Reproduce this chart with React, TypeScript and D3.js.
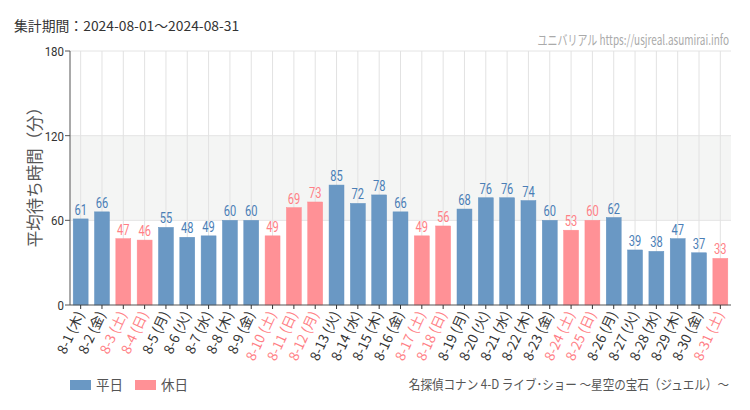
import React from "react";
import * as d3 from "d3";

const days = Array.from({ length: 31 }, (_, i) => `8-${i + 1}`);
const weekdays = ["木","金","土","日","月","火","水","木","金","土","日","月","火","水","木","金","土","日","月","火","水","木","金","土","日","月","火","水","木","金","土"];
const waits = [61,66,47,46,55,48,49,60,60,49,69,73,85,72,78,66,49,56,68,76,76,74,60,53,60,62,39,38,47,37,33];
const holidays = [3,4,10,11,12,17,18,24,25,31];
const yTicks = [0, 60, 120, 180];

const W = 750, H = 410;
const M = { left: 70, right: 731, top: 51, bottom: 305 };
const BLUE = "#6a98c4", PINK = "#ff9196";
const BLUE_T = "#4a7eb6", PINK_T = "#ff7f86";
const JP = "'Noto Sans CJK JP', 'Noto Sans', sans-serif";
const NUM = "Roboto, 'Noto Sans', sans-serif";

export default function App() {
  const x = d3.scaleBand<string>().domain(days).range([M.left, M.right]).paddingInner(0.3).paddingOuter(0.15);
  const y = d3.scaleLinear().domain([0, 180]).range([M.bottom, M.top]);
  const isHol = (i: number) => holidays.includes(i + 1);
  const cx = (d: string) => (x(d) as number) + x.bandwidth() / 2;

  return (
    <svg width={W} height={H} style={{ position: "fixed", left: 0, top: 0, background: "#fff" }}>
      <g transform="translate(14,31) scale(1.05,1)">
        <text x={0} y={0} fontFamily={JP} fontSize={13.2} fill="#333">集計期間：2024-08-01～2024-08-31</text>
      </g>
      <g transform="translate(729,45) scale(0.74,1)">
        <text x={0} y={0} textAnchor="end" fontFamily={JP} fontSize={13.5} fill="#aaa">ユニバリアル  https://usjreal.asumirai.info</text>
      </g>
      {/* shaded band 60-120 */}
      <rect x={M.left} y={y(120)} width={M.right - M.left} height={y(60) - y(120)} fill="#f4f5f4" />
      {/* horizontal grid */}
      {yTicks.filter(t => t > 0).map(t => (
        <line key={t} x1={M.left} x2={M.right} y1={y(t)} y2={y(t)} stroke="#e4e4e4" strokeWidth={1} />
      ))}
      {/* vertical grid */}
      {days.map(d => (
        <line key={d} x1={cx(d)} x2={cx(d)} y1={M.top} y2={M.bottom} stroke="#e2e2e2" strokeWidth={1} />
      ))}
      {/* bars */}
      {waits.map((v, i) => (
        <rect key={i} x={x(days[i])} y={y(v)} width={x.bandwidth()} height={M.bottom - y(v)}
          fill={isHol(i) ? PINK : BLUE} stroke={isHol(i) ? "#ff8a90" : "#6292c0"} strokeWidth={0.5} />
      ))}
      {/* value labels */}
      {waits.map((v, i) => (
        <g key={i} transform={`translate(${cx(days[i])},${y(v) - 4}) scale(0.74,1)`}>
          <text textAnchor="middle" fontFamily={NUM} fontSize={15} fill={isHol(i) ? PINK_T : BLUE_T}>{v}</text>
        </g>
      ))}
      {/* y axis */}
      <line x1={M.left} x2={M.left} y1={M.top} y2={M.bottom} stroke="#555" strokeWidth={1} />
      {yTicks.map(t => (
        <g key={t}>
          <line x1={M.left - 5} x2={M.left} y1={y(t)} y2={y(t)} stroke="#555" />
          <g transform={`translate(${M.left - 6},${y(t) + 5}) scale(0.85,1)`}>
            <text textAnchor="end" fontFamily={NUM} fontSize={13.5} fill="#333">{t}</text>
          </g>
        </g>
      ))}
      {/* x axis */}
      <line x1={M.left} x2={M.right} y1={M.bottom} y2={M.bottom} stroke="#555" strokeWidth={1} />
      {days.map((d, i) => (
        <g key={d}>
          <line x1={cx(d)} x2={cx(d)} y1={M.bottom} y2={M.bottom + 4} stroke="#333" />
          <text transform={`translate(${cx(d) + 4},${M.bottom + 9}) rotate(-65)`} textAnchor="end"
            fontFamily={JP} fontSize={13.5} fill={isHol(i) ? PINK_T : "#333"}>{`${d} (${weekdays[i]})`}</text>
        </g>
      ))}
      {/* y label */}
      <text transform={`translate(41,173) rotate(-90)`} textAnchor="middle" fontFamily={JP} fontSize={16.5} fill="#555">平均待ち時間（分）</text>
      {/* legend */}
      <rect x={70} y={380} width={21} height={10} fill={BLUE} />
      <text x={96} y={390} fontFamily={JP} fontSize={13.5} fill="#555">平日</text>
      <rect x={135} y={380} width={21} height={10} fill={PINK} />
      <text x={161} y={390} fontFamily={JP} fontSize={13.5} fill="#555">休日</text>
      <g transform="translate(729,389) scale(0.89,1)">
        <text x={0} y={0} textAnchor="end" fontFamily={JP} fontSize={13} fill="#555">名探偵コナン 4-D ライブ･ショー ～星空の宝石（ジュエル）～</text>
      </g>
    </svg>
  );
}
